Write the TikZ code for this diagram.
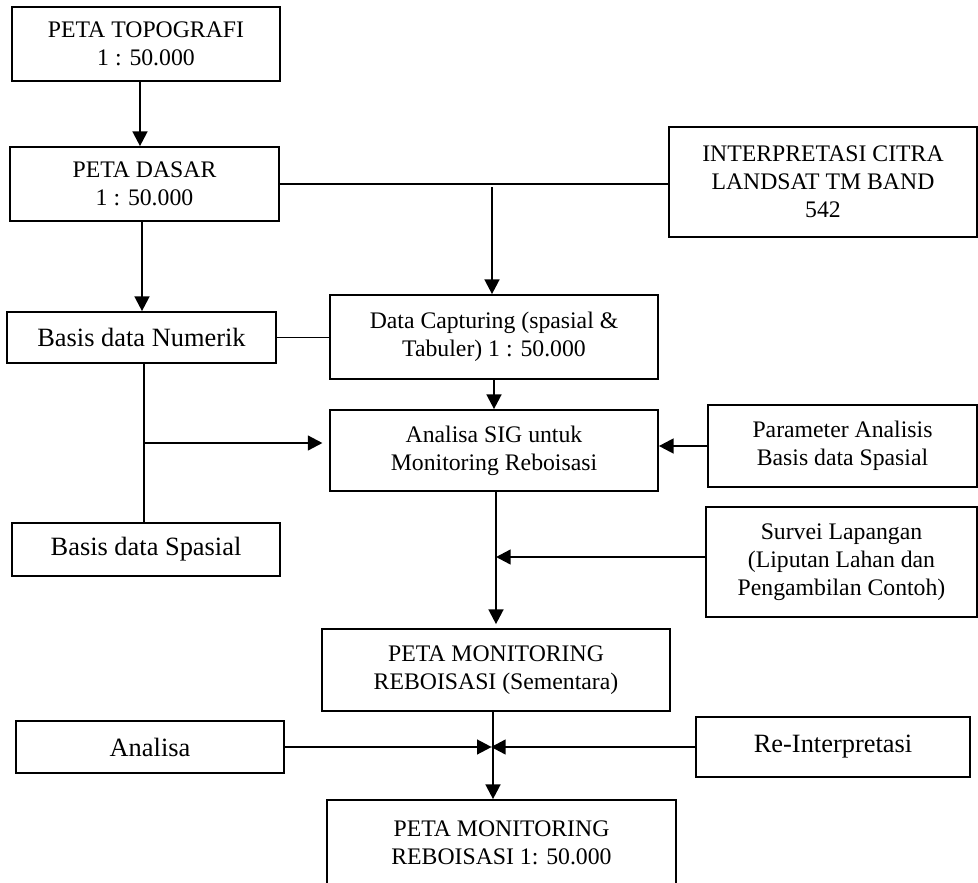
\documentclass[tikz,border=0pt]{standalone}
\usepackage{fontspec}
\setmainfont{Liberation Serif}
\usetikzlibrary{arrows.meta}
\newcommand\smtext{\fontsize{17.8pt}{21pt}\selectfont}
\newcommand\lgtext{\fontsize{19.8pt}{22pt}\selectfont}
\begin{document}
\begin{tikzpicture}[x=0.75pt,y=-0.75pt,
  box/.style={draw=black,line width=1.3pt,inner sep=0pt,align=center,font=\smtext},
  bigbox/.style={box,font=\lgtext},
  sz/.style 2 args={minimum width=#1*0.75pt,minimum height=#2*0.75pt},
  ln/.style={draw=black,line width=1.3pt},
  arr/.style={draw=black,line width=1.8pt,-{Triangle[length=11pt,width=11pt]}}]
\useasboundingbox (0,0) rectangle (978,882);
% boxes
\node[box,sz={268}{74}] (topo) at (146,44) {PETA TOPOGRAFI\\1 : 50.000};
\node[box,sz={269}{74}] (dasar) at (144.5,184) {PETA DASAR\\1 : 50.000};
\node[box,sz={308}{110}] (interp) at (823,182) {INTERPRETASI CITRA\\LANDSAT TM BAND\\542};
\node[bigbox,sz={269}{51}] (numerik) at (141.5,337.5) {Basis data Numerik};
\node[box,sz={328}{84}] (dc) at (494,337) {Data Capturing (spasial \&\\Tabuler) 1 : 50.000};
\node[box,sz={328}{81}] (sig) at (494,450.5) {Analisa SIG untuk\\Monitoring Reboisasi};
\node[box,sz={269}{82}] (param) at (842.5,446) {Parameter Analisis\\Basis data Spasial};
\node[bigbox,sz={268}{53}] (spasial) at (146,549.5) {Basis data Spasial};
\node[box,sz={271}{110}] (survei) at (841.5,562) {Survei Lapangan\\(Liputan Lahan dan\\Pengambilan Contoh)};
\node[box,sz={348}{82}] (sementara) at (496,670) {PETA MONITORING\\REBOISASI (Sementara)};
\node[bigbox,sz={268}{52}] (analisa) at (150,747) {Analisa};
\node[bigbox,sz={274}{60}] (reint) at (833,747) {Re-Interpretasi};
\node[box,sz={349}{85}] (final) at (501.5,842.5) {PETA MONITORING\\REBOISASI 1: 50.000};
% helper coordinates
\coordinate (xa) at (140,0);
\coordinate (xb) at (142,0);
\coordinate (xc) at (494,0);
\coordinate (j1) at (492,187);
\coordinate (j2) at (144,443);
\coordinate (j3) at (496,557);
\coordinate (j4) at (493,747);
% connectors
\draw[arr] (topo.south -| xa) -- (dasar.north -| xa);
\draw[ln] (dasar.east) -- (dasar.east -| interp.west);
\draw[arr] (j1) -- (j1 |- dc.north);
\draw[arr] (dasar.south -| xb) -- (numerik.north -| xb);
\draw[ln] (numerik.east) -- (numerik.east -| dc.west);
\draw[arr] (dc.south -| xc) -- (sig.north -| xc);
\draw[ln] (numerik.south -| j2) -- (spasial.north -| j2);
\draw[arr,shorten >=5pt] (j2) -- (j2 -| sig.west);
\draw[arr] (param.west) -- (param.west -| sig.east);
\draw[arr,shorten >=3pt] (sig.south -| j3) -- (sementara.north -| j3);
\draw[arr] (survei.west |- j3) -- (j3);
\draw[arr] (sementara.south -| j4) -- (final.north -| j4);
\draw[arr,shorten >=1pt] (analisa.east |- j4) -- (j4);
\draw[arr,shorten >=-1.5pt] (reint.west |- j4) -- (j4);
\end{tikzpicture}
\end{document}
